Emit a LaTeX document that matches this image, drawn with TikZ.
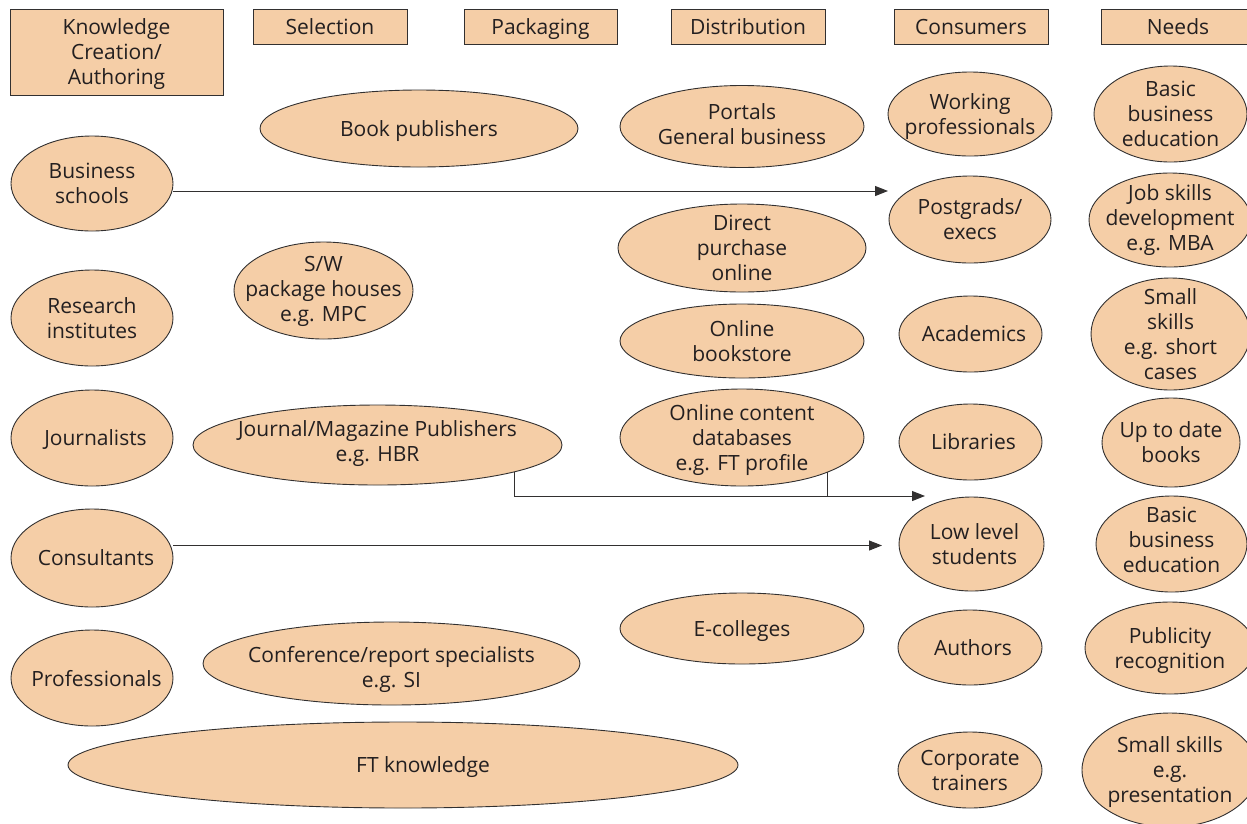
\documentclass[tikz,border=0pt]{standalone}
\usepackage{fontspec}
\setmainfont{Open Sans}
\usetikzlibrary{shapes.geometric,arrows.meta,calc}
\definecolor{peach}{RGB}{245,206,167}
\definecolor{edge}{RGB}{50,48,48}
\definecolor{ink}{RGB}{35,31,32}
\tikzset{
  txt/.style={text=ink,align=center,font=\fontsize{21}{25}\selectfont,inner sep=0pt,text depth=0pt},
  base/.style={draw=edge,line width=0.9pt,fill=peach,outer sep=0pt},
  head/.style={base,txt,rectangle},
  oval/.style={base,ellipse,inner sep=0pt},
  link/.style={draw=edge,line width=1pt},
  arr/.style={link,-{Triangle[length=13pt,width=10pt]}}
}
% an ellipse with half-axes #4, #5 and its caption, optionally offset by #1
\newcommand\ov[6][(0,0)]{%
  \node[oval,minimum width=#4*2,minimum height=#5*2] (#2) at #3 {};
  \node[txt] (#2-t) at ($(#2)+#1$) {#6};}
\begin{document}
\begin{tikzpicture}[x=1pt,y=-1pt]
\useasboundingbox (0,0) rectangle (1247,823);
% column headings
\node[head,minimum width=213,minimum height=86] (hk) at (116.5,52) {Knowledge\\Creation/\\Authoring};
\node[head,minimum width=154,minimum height=35] (hs) at (330,26.5) {Selection};
\node[head,minimum width=153,minimum height=35] (hp) at (540.5,26.5) {Packaging};
\node[head,minimum width=154,minimum height=35] (hd) at (748,26.5) {Distribution};
\node[head,minimum width=154,minimum height=35] (hc) at (971,26.5) {Consumers};
\node[head,minimum width=154,minimum height=35] (hn) at (1178,26.5) {Needs};
% knowledge creation / authoring
\ov{bs}{(92,183.5)}{81}{47.5}{Business\\schools}
\ov{ri}{(92,318)}{81}{48}{Research\\institutes}
\ov[(3.5,0)]{jo}{(92,438)}{81}{48}{Journalists}
\ov[(4,0)]{co}{(92,558)}{81}{49}{Consultants}
\ov[(4.5,0)]{pr}{(92,678)}{81}{48}{Professionals}
% selection
\ov{bp}{(419,128.5)}{159}{38.5}{Book publishers}
\ov[(0,-1.5)]{sw}{(323.5,290.5)}{89.5}{48.5}{S/W\\package houses\\e.g. MPC}
\ov[(0,-3.5)]{jm}{(377.5,445)}{184.5}{40}{Journal/Magazine Publishers\\e.g. HBR}
\ov[(0,3)]{cr}{(391.5,663.5)}{188.5}{41.5}{Conference/report specialists\\e.g. SI}
\ov[(20,0)]{ft}{(403,765)}{335}{43}{FT knowledge}
% distribution
\ov[(0,-2)]{po}{(742,126.5)}{122}{41}{Portals\\General business}
\ov{dp}{(742,248)}{124}{44}{Direct\\purchase\\online}
\ov{ob}{(742,341)}{122}{37}{Online\\bookstore}
\ov{ocd}{(742,437.5)}{122}{48.5}{Online content\\databases\\e.g. FT profile}
\ov{ec}{(742,628.5)}{122}{35.5}{E-colleges}
% consumers
\ov{wp}{(970,114)}{82}{42}{Working\\professionals}
\ov{pg}{(970,219.5)}{81}{43.5}{Postgrads/\\execs}
\ov[(3.5,0)]{ac}{(970.5,334)}{71.5}{38}{Academics}
\ov[(3,0)]{li}{(970.5,442)}{71.5}{38}{Libraries}
\ov[(3,0)]{ll}{(971.5,544)}{72.5}{47}{Low level\\students}
\ov[(3,0)]{au}{(970,647.5)}{72}{37.5}{Authors}
\ov{ct}{(970,770)}{72}{38}{Corporate\\trainers}
% needs
\ov{n1}{(1170.5,114)}{76.5}{48}{Basic\\business\\education}
\ov[(0,-2.5)]{n2}{(1170,220)}{81}{47}{Job skills\\development\\e.g. MBA}
\ov{n3}{(1170.5,334)}{79.5}{56}{Small\\skills\\e.g. short\\cases}
\ov{n4}{(1171,442.5)}{69}{44.5}{Up to date\\books}
\ov[(0,-4)]{n5}{(1171.5,544)}{75.5}{48}{Basic\\business\\education}
\ov{n6}{(1170,648)}{85}{46}{Publicity\\recognition}
\ov{n7}{(1170,770)}{88}{57}{Small skills\\e.g.\\presentation}
% flows
\coordinate (t1) at (888,191);
\coordinate (t2) at (882,545.5);
\coordinate (t3) at (925,496);
\draw[arr] (bs.east |- t1) -- (t1);
\draw[arr] (co.east |- t2) -- (t2);
\draw[arr] (jm.-11.2) |- (t3);
\draw[link] (ocd.-22) -- (ocd.-22 |- t3);
\end{tikzpicture}
\end{document}
